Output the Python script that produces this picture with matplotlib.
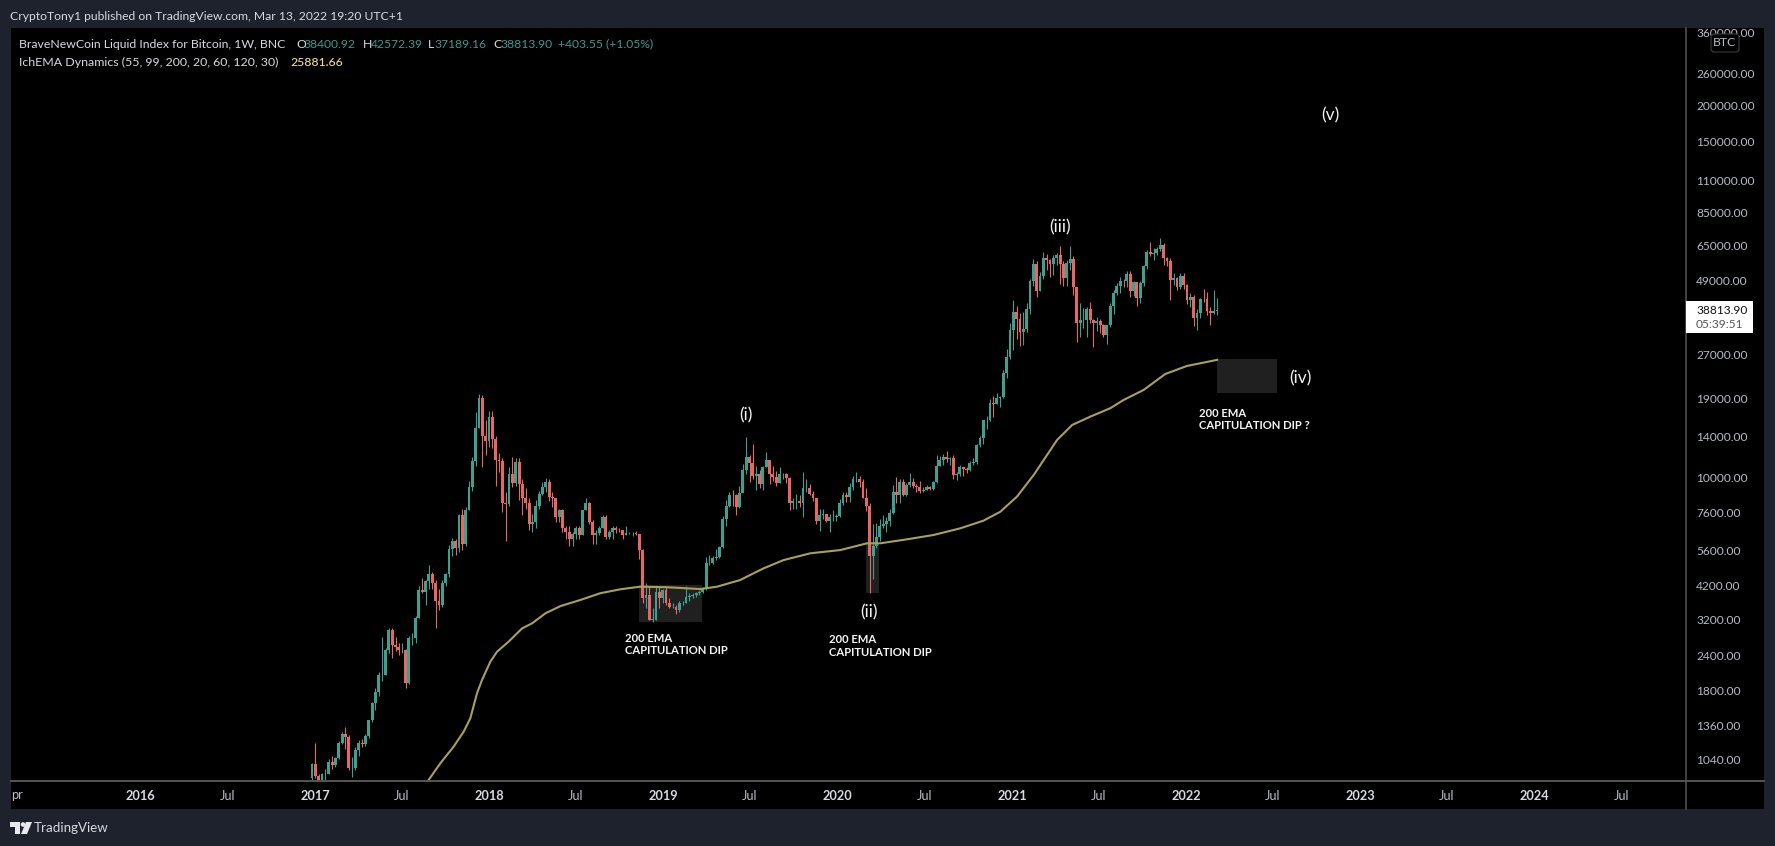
import numpy as np
import matplotlib
matplotlib.use("Agg")
import matplotlib.pyplot as plt
import matplotlib.dates as mdates
from matplotlib.lines import Line2D
from matplotlib.patches import Rectangle, FancyBboxPatch, Circle, Polygon
from matplotlib.ticker import NullLocator

W, H = 1775, 846
plt.rcParams['font.family'] = ['Lato', 'DejaVu Sans']

first_open = 890
close_2017 = [1000,905,830,920,920,1020,990,1050,1180,1270,1240,970,970,1120,1180,1170,1250,1420,1640,1780,2050,2050,2500,2950,2600,2560,2500,2500,1920,2750,2750,3250,4050,4000,4350,4600,4300,3700,3600,4300,4600,5650,6000,5700,7400,5900,7700,9300,11500,15000,19000,14000,13500]
high_2017 = [1010,1180,920,930,960,1040,1070,1060,1200,1290,1350,1260,1060,1150,1210,1220,1270,1430,1650,1850,2100,2790,2550,2980,3000,2780,2650,2650,2520,2800,2880,3300,4200,4480,4400,4980,4700,4400,4100,4400,4650,5850,6170,6100,7500,7800,7900,9800,11800,17000,19700,19500,15900]
low_2017 = [880,890,750,880,870,920,960,980,1040,1170,1130,950,900,950,1070,1150,1160,1230,1400,1550,1730,1950,2050,2450,2350,2480,2400,2450,1850,1900,2600,2650,3250,3950,3600,4100,4100,2980,3450,3550,4200,4500,5350,5400,5500,5600,5800,7700,9000,11000,14900,10900,12000]
close_2018 = [16300,13700,11600,11500,8200,8100,10300,9600,11400,9500,8500,8200,6900,7000,8000,8800,9300,9700,8600,8500,7300,7700,6700,6500,6100,6350,6700,6300,7700,8200,7000,6300,6400,6700,7300,6200,6500,6700,6600,6580,6300,6400,6400,6400,6350,5600,3800,3900,3200,3200,4000,3800,4050]
high_2018 = [17200,17200,14000,12200,11700,8900,10950,11800,11700,11700,9900,9200,8500,7500,8400,9000,9700,10000,9900,8900,8500,7800,7800,6800,6800,6500,6800,6800,7700,8500,8250,7150,6600,6800,7400,7400,6600,6800,6800,6700,6600,6800,6500,6500,6550,6350,5650,4300,4200,3500,4200,4200,4100]
low_2018 = [12800,12700,9400,10500,7600,6000,8000,9300,9400,8400,7400,7800,6600,6500,6700,7800,8700,8900,8300,7900,7000,7000,6500,6100,5800,5800,6100,6100,6300,7700,6900,5900,5900,6300,6700,6100,6100,6100,6400,6450,6100,6300,6350,6250,6300,5200,3650,3500,3200,3130,3200,3500,3650]
close_2019 = [3650,3550,3550,3450,3650,3650,3850,3860,3900,3950,4000,4100,5050,5050,5250,5300,5750,7200,8000,8750,8700,7900,8850,10700,11800,11300,10200,10300,9500,10900,11600,10300,10100,9600,10300,10300,10000,8200,8300,8300,8200,9200,9200,8800,8500,7050,7400,7500,7100,7300,7300,7350]
high_2019 = [4150,3800,3650,3600,3700,3700,4200,3950,3950,4000,4050,4150,5300,5400,5350,5650,5800,7350,8350,8950,9100,8800,9350,11150,13900,12000,13200,11000,10700,11000,12300,11500,11000,10600,10900,10450,10400,10100,8500,8800,8700,10500,9900,9500,9000,8500,7800,7800,7500,7500,7700,7500]
low_2019 = [3600,3500,3500,3350,3400,3600,3650,3700,3800,3850,3900,3950,4050,4950,5000,5150,5250,5700,6800,7900,8000,7450,7850,8900,10350,9700,9900,9100,9200,9100,10900,9500,9800,9400,9600,9900,9600,7700,7800,7800,7900,7300,8900,8700,8300,6900,6550,7200,7000,6450,7100,7100]
close_2020 = [8200,8700,8600,9300,9900,9900,9650,8500,8000,5350,5800,6200,6770,6900,7100,7550,8900,8700,9680,8700,9450,9670,9350,9300,9000,9070,9300,9160,9700,11050,11600,11800,11650,11700,10250,10300,10950,10750,10650,11300,11350,13000,13800,15900,16000,18350,18200,19000,19150,23300,26450,33000]
high_2020 = [8450,8900,8950,9600,10150,10500,10200,9900,9200,8180,6900,6950,7200,7450,7300,7770,9450,10050,9950,9900,9600,10400,10000,9550,9750,9300,9450,9350,9800,12000,11900,12100,12450,11800,12050,10500,11100,10950,10950,11450,11750,13200,14050,15950,16500,18850,19400,19900,19400,23800,28300,34700]
low_2020 = [7300,8050,8250,8250,9100,9700,9300,8500,7650,3960,4450,5700,6000,6700,6500,6800,7500,8200,8200,8650,8650,9300,9250,8950,8850,8900,9050,9100,9100,9600,11000,11100,11400,11100,9900,9850,10200,10150,10400,10550,11100,11200,12800,13200,14800,15800,16400,18100,17650,19000,22300,26000]
close_2021 = [38000,36000,32300,33100,38900,48800,55900,45200,50900,59000,58000,55800,58900,60000,56200,50000,56500,58200,46500,34800,35600,35800,39000,35600,34700,35300,34200,31600,34300,39800,44500,47000,49000,48800,51800,45000,48300,42700,48200,55000,61500,60800,61200,63200,65500,58700,57300,49300,50000,46700,50800,47300]
high_2021 = [41900,40100,37800,38000,40900,49700,58300,57500,52600,61500,60500,58400,60100,61300,64800,57500,58000,64500,59500,46600,40800,39400,39500,41300,36000,36500,35900,34600,34400,40800,45300,47900,50400,49700,52900,52900,48800,48100,49000,55700,62900,67000,63700,64100,69000,66300,59400,59000,51900,50500,51900,52100]
low_2021 = [28000,30500,28900,29200,32400,37500,47000,43000,44900,49800,53200,50400,51300,55500,47500,47100,46900,53300,43800,30000,31200,33400,31100,34800,28800,32700,32200,31000,29300,33800,37500,43800,44200,46400,46500,42800,43400,40000,40800,47100,53900,59600,57900,60000,62300,55700,55100,42000,47300,45500,45700,45700]
close_2022 = [41800,43100,36300,37900,42400,42200,38300,37700,38400,38813.90]
high_2022 = [47500,44500,43500,38900,42700,45800,44700,39700,45400,42572.39]
low_2022 = [40600,39700,34000,32900,36300,41100,37000,34400,37500,37189.16]

ema_weeks = [33.9,37.4,41.4,44.4,46.4,48.4,49.9,52.4,54.4,57.9,61.9,64.9,68.9,73.4,79.3,85.3,91.3,97.3,105.3,115.3,120.3,127.2,134.2,140.2,148.2,157.2,165.2,169.2,177.2,185.1,193.1,200.1,205.1,210.1,215.1,222.1,226.6,232,238,242,248,254.5,261,270]
ema_values = [879,1005,1150,1297,1445,1767,1967,2280,2470,2680,2980,3104,3365,3566,3744,3954,4082,4169,4150,4090,4169,4398,4831,5164,5454,5598,5912,5912,6105,6320,6668,7096,7621,8610,10245,13580,15320,16380,17530,18740,20310,23100,24650,25881.66]

price_ticks = [360000,260000,200000,150000,110000,85000,65000,49000,27000,19000,14000,10000,7600,5600,4200,3200,2400,1800,1360,1040]
year_ticks = ['2016','2017','2018','2019','2020','2021','2022','2023','2024']
jul_ticks = ['2016','2017','2018','2019','2020','2021','2022','2023','2024']

BG = '#1e222d'
TEAL = '#3fa091'
RED = '#e56864'
TXT = '#b8bbc4'
LINE = '#565656'
EMA = '#a9a05c'

def fx(x): return x / W
def fy(y): return 1 - y / H

fig = plt.figure(figsize=(W / 100, H / 100), dpi=100, facecolor=BG)
fig.add_artist(Rectangle((fx(11), fy(809)), fx(1764 - 11), (809 - 28) / H, transform=fig.transFigure, fc='black', ec='none', zorder=-5))
ax = fig.add_axes([fx(11), fy(780.5), fx(1686 - 11), (780.5 - 28) / H], facecolor='black')
ax.patch.set_alpha(0)

closes = np.array(close_2017 + close_2018 + close_2019 + close_2020 + close_2021 + close_2022, float)
highs = np.array(high_2017 + high_2018 + high_2019 + high_2020 + high_2021 + high_2022, float)
lows = np.array(low_2017 + low_2018 + low_2019 + low_2020 + low_2021 + low_2022, float)
opens = np.concatenate([[first_open], closes[:-1]])
opens[-1] = 38400.92

t0 = mdates.date2num(np.datetime64('2016-12-26'))
xs = t0 + 7 * np.arange(len(closes))
colors = [TEAL if c >= o else RED for o, c in zip(opens, closes)]

x_base = mdates.date2num(np.datetime64('2017-01-02'))
ax.set_yscale('log')
for label, x0, x1, p0, p1 in [('a', '2018-11-11', '2019-03-23', 3138, 4227),
                              ('b', '2020-03-01', '2020-03-28', 3962, 5925),
                              ('c', '2022-03-06', '2022-07-10', 19830, 26060)]:
    a, b = mdates.date2num(np.datetime64(x0)), mdates.date2num(np.datetime64(x1))
    ax.add_patch(Rectangle((a, p0), b - a, p1 - p0, fc='#202020', ec='none', zorder=1))

ax.vlines(xs, lows, highs, colors=colors, lw=0.8, zorder=2)
ax.bar(xs, np.maximum(np.abs(closes - opens), 1), bottom=np.minimum(opens, closes), width=6.0, color=colors, lw=0, zorder=3)
ax.plot(x_base + 7 * np.array(ema_weeks), ema_values, color=EMA, lw=1.5, zorder=4, solid_joinstyle='round')

day0 = mdates.date2num(np.datetime64('2017-01-01'))
ax.set_xlim(day0 - 637, day0 + 2874)
ax.set_ylim(10000 * 10 ** ((478 - 780.5) / 286), 10000 * 10 ** ((478 - 28) / 286))

ax.yaxis.tick_right()
ax.set_yticks(price_ticks)
ax.set_yticklabels([f'{p:.2f}' for p in price_ticks], color=TXT, fontsize=8.6, ha='left')
ax.yaxis.set_minor_locator(NullLocator())
ax.xaxis.set_minor_locator(NullLocator())
ax.tick_params(axis='y', length=0, pad=7.2)
ax.tick_params(axis='x', length=0, pad=7.0)

yr_pos = [mdates.date2num(np.datetime64(y + '-01-01')) for y in year_ticks]
jul_pos = [mdates.date2num(np.datetime64(y + '-07-01')) for y in jul_ticks]
ax.set_xticks(yr_pos + jul_pos)
ax.set_xticklabels(year_ticks + ['Jul'] * len(jul_ticks), fontsize=9.2)
for i, t_ in enumerate(ax.get_xticklabels()):
    if i < len(year_ticks):
        t_.set_color('#d8dae0'); t_.set_fontweight('bold')
    else:
        t_.set_color(TXT)
for s in ax.spines.values():
    s.set_visible(False)

fig.add_artist(Line2D([fx(1686)] * 2, [fy(28), fy(809)], color=LINE, lw=1.1, zorder=6))
fig.add_artist(Line2D([fx(11), fx(1764)], [fy(780.5)] * 2, color=LINE, lw=1.4, zorder=6))

def t(x, y, s, color='#ffffff', size=9.2, ha='left', weight='normal', **kw):
    return fig.text(fx(x), fy(y), s, color=color, fontsize=size, ha=ha, va='center', fontweight=weight, **kw)

t(11, 794.5, 'pr', TXT, 9.2)
t(10, 16, 'CryptoTony1 published on TradingView.com, Mar 13, 2022 19:20 UTC+1', '#d8dae0', 8.75)

LG = '#3f9a8b'
t(19, 44, 'BraveNewCoin Liquid Index for Bitcoin, 1W, BNC', '#d8dae0', 8.8)
for x, s in [(296, 'O'), (363, 'H'), (428, 'L'), (493, 'C')]:
    t(x, 44, s, '#d8dae0', 8.8)
for x, s in [(303.5, '38400.92'), (370.5, '42572.39'), (434.5, '37189.16'), (500.5, '38813.90'), (558, '+403.55 (+1.05%)')]:
    t(x, 44, s, LG, 8.7)
t(19, 62, 'IchEMA Dynamics (55, 99, 200, 20, 60, 120, 30)', '#d8dae0', 8.95)
t(290, 62, '25881.66', '#ecdf8f', 8.8, weight='medium')

for x, y, s in [(1330, 115, '(v)'), (1060, 227, '(iii)'), (1300, 378, '(iv)'), (746, 415, '(i)'), (869, 612, '(ii)')]:
    t(x, y, s, '#f2f2f2', 12.5, ha='center')
for x, y1, y2, s in [(625, 638, 651, 'CAPITULATION DIP'), (829, 639, 652, 'CAPITULATION DIP'), (1199, 413, 425, 'CAPITULATION DIP ?')]:
    t(x, y1, '200 EMA', '#f6f6f6', 8.1, weight='bold')
    t(x, y2, s, '#f6f6f6', 8.1, weight='bold')

fig.add_artist(Rectangle((fx(1686), fy(333)), fx(67), 32 / H, transform=fig.transFigure, fc='white', ec='none', zorder=7))
t(1696, 310.5, '38813.90', '#111111', 8.6, zorder=8)
t(1696, 325, '05:39:51', '#555555', 8.6, zorder=8)

ax2 = fig.add_axes([0, 0, 1, 1], facecolor='none')
ax2.set_xlim(0, W); ax2.set_ylim(H, 0); ax2.axis('off')
ax2.add_patch(FancyBboxPatch((1713, 36), 24, 14, boxstyle='round,pad=2,rounding_size=3', fc='black', ec='#3c3c3c', lw=0.8))
ax2.text(1725, 43, 'BTC', color=TXT, fontsize=8.8, ha='center', va='center')
# TradingView mark
ax2.add_patch(Polygon([(10, 822), (20, 822), (20, 834), (15, 834), (15, 827), (10, 827)], fc='#e8e9ec', ec='none'))
ax2.add_patch(Circle((23, 824.5), 2.3, fc='#e8e9ec', ec='none'))
ax2.add_patch(Polygon([(26, 822), (32, 822), (27, 834), (21, 834)], fc='#e8e9ec', ec='none'))
ax2.text(34, 828, 'TradingView', color='#d8dae0', fontsize=9.6, ha='left', va='center')

fig.savefig('out.png', dpi=100, facecolor=BG)
